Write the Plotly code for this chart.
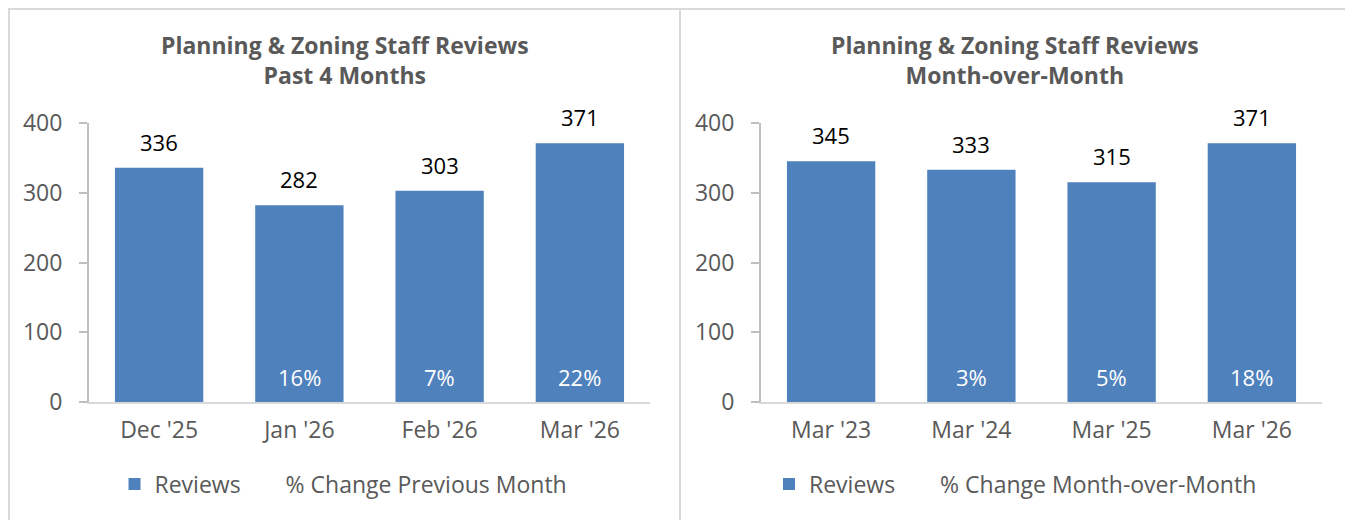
import plotly.graph_objects as go

# data
months_recent = ["Dec '25", "Jan '26", "Feb '26", "Mar '26"]
reviews_recent = [336, 282, 303, 371]
pct_recent = [None, 16, 7, 22]

months_yoy = ["Mar '23", "Mar '24", "Mar '25", "Mar '26"]
reviews_yoy = [345, 333, 315, 371]
pct_yoy = [None, 3, 5, 18]

W, H = 1353, 520
OFF = 8  # page body margin shifts the plot by 8px
BLUE = "#4F81BD"
GRAY_TXT = "#595959"
YAXIS = "#BFBFBF"
XAXIS = "#D9D9D9"
BORDER = "#D9D9D9"
FONT = "Open Sans"


def px_x(v):
    return (v - OFF) / W


def px_y(v):
    return 1 - (v - OFF) / H


fig = go.Figure()

panels = [
    dict(cats=months_recent, vals=reviews_recent, pct=pct_recent,
         xa="x", ya="y", leg="legend",
         title="Planning & Zoning Staff Reviews<br>Past 4 Months",
         pct_name="% Change Previous Month", box=(9, 680), dom=(89, 650)),
    dict(cats=months_yoy, vals=reviews_yoy, pct=pct_yoy,
         xa="x2", ya="y2", leg="legend2",
         title="Planning & Zoning Staff Reviews<br>Month-over-Month",
         pct_name="% Change Month-over-Month", box=(680, 1350), dom=(761, 1322)),
]

for p in panels:
    fig.add_trace(go.Bar(
        x=p["cats"], y=p["vals"], name="Reviews",
        marker=dict(color=BLUE, line=dict(width=0)),
        xaxis=p["xa"], yaxis=p["ya"], legend=p["leg"],
        hoverinfo="skip",
    ))
    # legend-only entry for the percent series (no symbol, like the original)
    fig.add_trace(go.Scatter(
        x=[None], y=[None], mode="markers", name=p["pct_name"],
        marker=dict(color="rgba(0,0,0,0)", size=1),
        xaxis=p["xa"], yaxis=p["ya"], legend=p["leg"],
    ))
    # value labels above bars
    for c, v in zip(p["cats"], p["vals"]):
        fig.add_annotation(x=c, y=v, xref=p["xa"], yref=p["ya"], text=str(v),
                           showarrow=False, yanchor="bottom", yshift=9,
                           font=dict(family=FONT, size=22, color="black"))
    # percent labels at bar base
    for c, pc in zip(p["cats"], p["pct"]):
        if pc is None:
            continue
        fig.add_annotation(x=c, y=0, xref=p["xa"], yref=p["ya"], text=f"{pc}%",
                           showarrow=False, yanchor="bottom", yshift=8,
                           font=dict(family=FONT, size=22, color="white"))
    # title
    cx = px_x((p["box"][0] + p["box"][1]) / 2)
    fig.add_annotation(x=cx, y=px_y(60.5), xref="paper", yref="paper",
                       text=f"<b>{p['title']}</b>", showarrow=False,
                       xanchor="center", yanchor="middle",
                       font=dict(family=FONT, size=23, color=GRAY_TXT))
    # panel border
    fig.add_shape(type="rect", xref="paper", yref="paper",
                  x0=px_x(p["box"][0]), x1=px_x(p["box"][1]), y0=-0.1, y1=px_y(9),
                  line=dict(color=BORDER, width=2), layer="below")

tickfont = dict(family=FONT, size=23, color=GRAY_TXT)
xcommon = dict(showgrid=False, zeroline=False, showline=True, linecolor=XAXIS,
               linewidth=2, tickfont=tickfont, ticks="", ticklabelstandoff=6)
ycommon = dict(showgrid=False, zeroline=False, showline=True, linecolor=YAXIS,
               linewidth=2, tickfont=tickfont, range=[0, 400], dtick=100,
               ticks="outside", ticklen=8, tickcolor=YAXIS, tickwidth=2,
               ticklabelstandoff=12)

ydom = [px_y(402), px_y(123)]
legend_common = dict(orientation="h", xanchor="center", y=px_y(484), yanchor="middle",
                     itemwidth=30, font=dict(family=FONT, size=23, color=GRAY_TXT))
fig.update_layout(
    width=W, height=H,
    margin=dict(l=0, r=0, t=0, b=0, autoexpand=False),
    paper_bgcolor="white", plot_bgcolor="white",
    bargap=0.37,
    font=dict(family=FONT, color=GRAY_TXT),
    xaxis=dict(xcommon, domain=[px_x(panels[0]["dom"][0]), px_x(panels[0]["dom"][1])], anchor="y"),
    yaxis=dict(ycommon, domain=ydom, anchor="x"),
    xaxis2=dict(xcommon, domain=[px_x(panels[1]["dom"][0]), px_x(panels[1]["dom"][1])], anchor="y2"),
    yaxis2=dict(ycommon, domain=ydom, anchor="x2"),
    legend=dict(legend_common, x=px_x((7 + 680) / 2)),
    legend2=dict(legend_common, x=px_x((680 + 1351) / 2)),
    showlegend=True,
)

fig.write_html("out.html")
